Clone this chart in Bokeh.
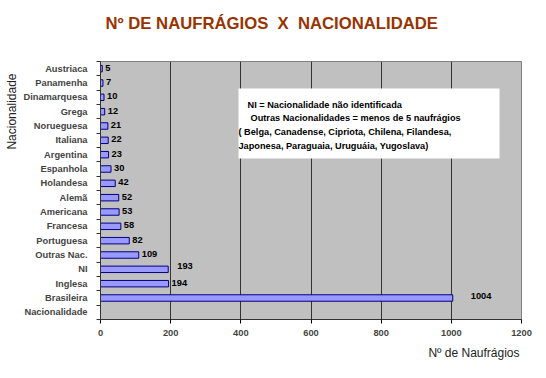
import numpy as np
from bokeh.plotting import figure
from bokeh.models import Range1d, FixedTicker, ColumnDataSource, Label, BoxAnnotation, Title
from bokeh.core.properties import value
from bokeh.embed import file_html
from bokeh.resources import INLINE

# ---- data (bottom to top) ----
nacionalidades = ["Nacionalidade", "Brasileira", "Inglesa", "NI", "Outras Nac.",
                  "Portuguesa", "Francesa", "Americana", "Alemã", "Holandesa",
                  "Espanhola", "Argentina", "Italiana", "Norueguesa", "Grega",
                  "Dinamarquesa", "Panamenha", "Austriaca"]
naufragios = [None, 1004, 194, 193, 109, 82, 58, 53, 52, 42, 30, 23, 22, 21, 12, 10, 7, 5]
x_ticks = [0, 200, 400, 600, 800, 1000, 1200]

title_text = "Nº DE NAUFRÁGIOS\u00a0\u00a0X\u00a0\u00a0NACIONALIDADE"
x_title = "Nº de Naufrágios"
y_title = "Nacionalidade"
note_lines = [
    "NI = Nacionalidade não identificada",
    "Outras Nacionalidades = menos de 5 naufrágios",
    "( Belga, Canadense, Cipriota, Chilena, Filandesa,",
    "Japonesa, Paraguaia, Uruguáia, Yugoslava)",
]

# ---- styles ----
FONT = "Liberation Sans"
label_nudge = {"NI": (9, -3), "Brasileira": (18, -2)}
note_indent = [9, 12, 0, 0]

ys = list(range(len(nacionalidades)))
vals = [np.nan if v is None else float(v) for v in naufragios]
labels = ["" if v is None else str(v) for v in naufragios]
dx = [label_nudge.get(n, (3, -1))[0] for n in nacionalidades]
dy = [label_nudge.get(n, (3, -1))[1] for n in nacionalidades]

src = ColumnDataSource(dict(y=ys, v=vals, lbl=labels, dx=dx, dy=dy))

W, H = 546, 378
L, R, T, B = 100, 25, 61, 59
p = figure(width=W, height=H, output_backend="svg", toolbar_location=None,
           x_range=Range1d(0, 1200), y_range=Range1d(-0.5, len(ys) - 0.5),
           min_border_left=L, min_border_right=R, min_border_top=T, min_border_bottom=B)
p.background_fill_color = "#C0C0C0"
p.border_fill_color = "white"
p.outline_line_color = "#808080"
p.outline_line_width = 1

fw, fh = W - L - R, H - T - B
px_x = 1200 / fw
px_y = len(ys) / fh

p.hbar(y="y", right="v", left=0, height=0.45, source=src,
       fill_color="#9999FF", line_color="#000080", line_width=1)
p.text(x="v", y="y", text="lbl", x_offset="dx", y_offset="dy", source=src,
       text_font=value(FONT), text_font_size="9.3px", text_font_style="bold",
       text_baseline="middle", text_align="left", text_color="black")

# axes
xa = p.xaxis[0]
xa.ticker = FixedTicker(ticks=x_ticks)
xa.axis_line_color = "#333333"
xa.major_tick_in = 0
xa.major_tick_out = 4
xa.minor_tick_line_color = None
xa.major_label_text_font = FONT
xa.major_label_text_font_style = "bold"
xa.major_label_text_font_size = "9.3px"
xa.major_label_standoff = 6

ya = p.yaxis[0]
ya.ticker = FixedTicker(ticks=ys, minor_ticks=[i - 0.5 for i in range(len(ys) + 1)])
ya.major_label_overrides = {i: n for i, n in zip(ys, nacionalidades)}
ya.axis_line_color = "#333333"
ya.major_tick_in = 0
ya.major_tick_out = 0
ya.minor_tick_in = 0
ya.minor_tick_out = 4
ya.minor_tick_line_color = "#333333"
ya.major_label_text_font = FONT
ya.major_label_text_font_style = "bold"
ya.major_label_text_font_size = "9.3px"
ya.major_label_standoff = 9

p.xgrid.ticker = FixedTicker(ticks=x_ticks)
p.xgrid.grid_line_color = "#333333"
p.xgrid.grid_line_width = 1
p.ygrid.grid_line_color = None

ytop = len(ys) - 0.5

# spacer between frame and title (first added = closest to frame), then the title
p.add_layout(Title(text="\u00a0", text_font_size="1px", standoff=25), "above")
p.add_layout(Title(text=title_text, align="left", offset=5, standoff=2,
                   text_font=FONT, text_font_style="bold", text_font_size="16.7px",
                   text_color="#993300"), "above")
p.add_layout(Title(text=x_title, align="right", offset=2, standoff=10,
                   text_font=FONT, text_font_style="normal", text_font_size="12px",
                   text_color="#222222"), "below")
p.add_layout(Title(text=y_title, align="right", offset=12, standoff=3,
                   text_font=FONT, text_font_style="normal", text_font_size="12px",
                   text_color="#222222"), "left")

# note box
p.add_layout(BoxAnnotation(left=(238 - L) * px_x, right=(499 - L) * px_x,
                           top=ytop - (88 - T) * px_y, bottom=ytop - (158 - T) * px_y,
                           fill_color="white", fill_alpha=1, line_color=None,
                           level="annotation"))
for i, line in enumerate(note_lines):
    p.add_layout(Label(x=(238 - L + note_indent[i]) * px_x,
                       y=ytop - (104 + i * 13.7 - T) * px_y, text=line,
                       text_font=FONT, text_font_style="bold", text_font_size="9.2px",
                       text_color="black", text_align="left", text_baseline="middle"))

open("out.html", "w").write(file_html(p, INLINE))
